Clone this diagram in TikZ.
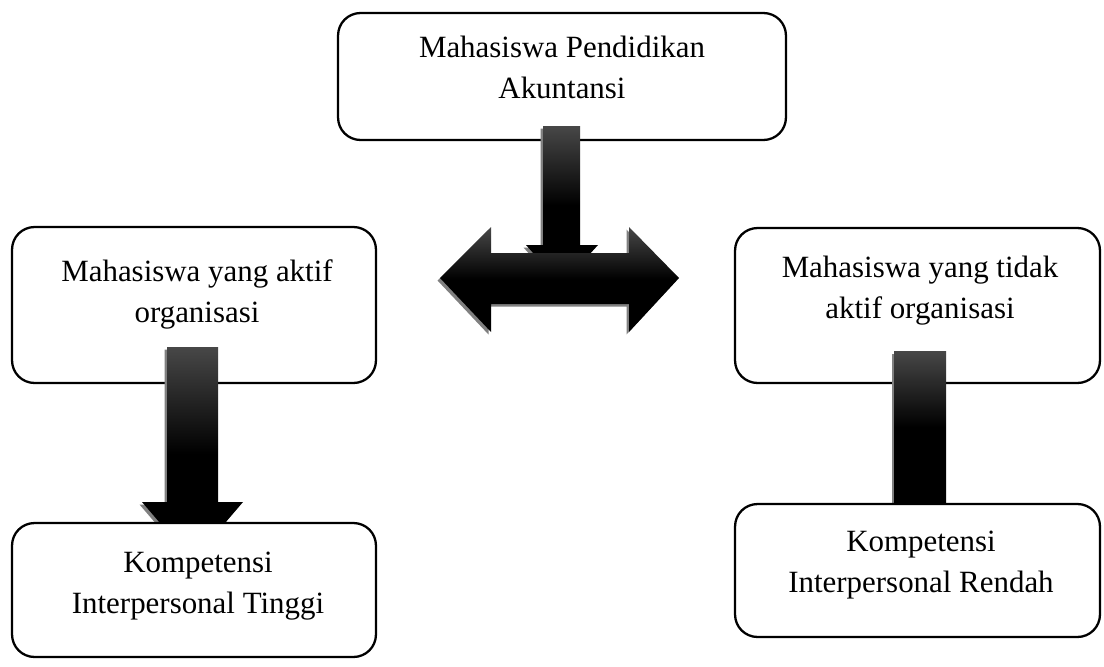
\documentclass[tikz,border=0pt]{standalone}
\usepackage{fontspec}
\setmainfont{Liberation Serif}
\usetikzlibrary{shadows}

\tikzset{
  kotak/.style={draw, line width=1.3pt, rounded corners=0.45cm, fill=white},
  teks/.style={align=center, inner sep=0pt, anchor=north, font=\fontsize{17.6}{23.3}\selectfont},
  panah/.style={top color=black!72, bottom color=black, middle color=black,
    drop shadow={shadow xshift=-0.05cm, shadow yshift=-0.05cm, fill=black!50, opacity=1}}
}

\begin{document}
\begin{tikzpicture}[x=0.02cm, y=-0.02cm]
	\useasboundingbox (0,0) rectangle (1104,666);
	%Boxes (upper row)
	\node[kotak, minimum width=8.96cm, minimum height=2.54cm] (akun) at (562,76.5) {};
	\node[kotak, minimum width=7.28cm, minimum height=3.12cm] (aktif) at (194,305) {};
	\node[kotak, minimum width=7.30cm, minimum height=3.10cm] (tidak) at (917.5,305.5) {};

	%Arrow points
	\coordinate (v0) at (543,126);
	\coordinate (v1) at (580,126);
	\coordinate (v2) at (580,245);
	\coordinate (v3) at (598,245);
	\coordinate (v4) at (561.5,285);
	\coordinate (v5) at (526,245);
	\coordinate (v6) at (543,245);

	\coordinate (d0) at (440,278);
	\coordinate (d1) at (491,227);
	\coordinate (d2) at (491,253);
	\coordinate (d3) at (629,253);
	\coordinate (d4) at (629,227);
	\coordinate (d5) at (679,278);
	\coordinate (d6) at (629,332);
	\coordinate (d7) at (629,304);
	\coordinate (d8) at (491,304);
	\coordinate (d9) at (491,332);

	\coordinate (k0) at (167,347);
	\coordinate (k1) at (218,347);
	\coordinate (k2) at (218,502);
	\coordinate (k3) at (243,502);
	\coordinate (k4) at (192.5,561);
	\coordinate (k5) at (142,502);
	\coordinate (k6) at (167,502);

	\coordinate (r0) at (894,351);
	\coordinate (r1) at (946,504);

	%Arrows
	\path[panah] (v0) -- (v1) -- (v2) -- (v3) -- (v4) -- (v5) -- (v6) -- cycle;
	\path[panah] (d0) -- (d1) -- (d2) -- (d3) -- (d4) -- (d5) -- (d6) -- (d7) -- (d8) -- (d9) -- cycle;
	\path[panah] (k0) -- (k1) -- (k2) -- (k3) -- (k4) -- (k5) -- (k6) -- cycle;
	\path[panah] (r0) rectangle (r1);

	%Boxes (lower row)
	\node[kotak, minimum width=7.28cm, minimum height=2.68cm] (tinggi) at (194,590) {};
	\node[kotak, minimum width=7.30cm, minimum height=2.66cm] (rendah) at (917.5,570.5) {};

	%Texts
	\node[teks] (tAkun) at (562,36) {Mahasiswa Pendidikan\\Akuntansi};
	\node[teks] (tAktif) at (197,259) {Mahasiswa yang aktif\\organisasi};
	\node[teks] (tTidak) at (920,256) {Mahasiswa yang tidak\\aktif organisasi};
	\node[teks] (tTinggi) at (198,552) {Kompetensi\\Interpersonal Tinggi};
	\node[teks] (tRendah) at (921,531) {Kompetensi\\Interpersonal Rendah};
\end{tikzpicture}
\end{document}
